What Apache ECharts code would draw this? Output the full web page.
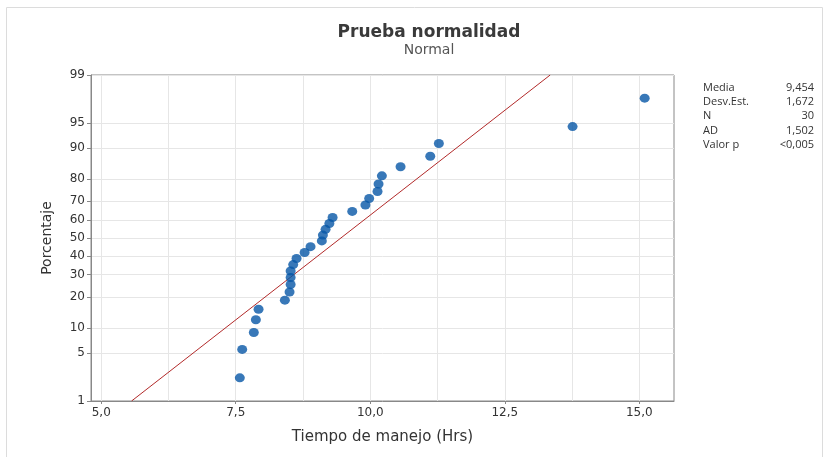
<!DOCTYPE html>
<html><head><meta charset="utf-8">
<script src="https://cdn.jsdelivr.net/npm/echarts@6/dist/echarts.min.js"></script>
<style>html,body{margin:0;padding:0;background:#fff}#c{width:829px;height:457px}</style>
</head><body><div id="c"></div>
<script>
// ---- data ----
const hours = [7.576,7.62,7.836,7.874,7.924,8.413,8.50,8.52,8.52,8.52,8.568,8.63,8.78,8.89,9.10,9.12,9.17,9.24,9.30,9.665,9.91,9.98,10.135,10.154,10.216,10.563,11.115,11.275,13.76,15.10];
const percents = [2.30,5.59,8.88,12.17,15.46,18.75,22.04,25.33,28.62,31.91,35.20,38.49,41.78,45.07,48.36,51.64,54.93,58.22,61.51,64.80,68.09,71.38,74.67,77.96,81.25,84.54,87.83,91.12,94.41,97.70];
const yTickLabels = [1,5,10,20,30,40,50,60,70,80,90,95,99];
const xTickLabels = [5,7.5,10,12.5,15];
const xGridValues = [5,6.25,7.5,8.75,10,11.25,12.5,13.75,15];
const statNames = ['Media','Desv.Est.','N','AD','Valor p'];
const statValues = ['9,454','1,672','30','1,502','<0,005'];
const fitMean = 9.454, fitSd = 1.672;

// inverse normal CDF (probability scale)
function probit(p){
  const a=[-3.969683028665376e+01,2.209460984245205e+02,-2.759285104469687e+02,1.383577518672690e+02,-3.066479806614716e+01,2.506628277459239e+00];
  const b=[-5.447609879822406e+01,1.615858368580409e+02,-1.556989798598866e+02,6.680131188771972e+01,-1.328068155288572e+01];
  const c=[-7.784894002430293e-03,-3.223964580411365e-01,-2.400758277161838e+00,-2.549732539343734e+00,4.374664141464968e+00,2.938163982698783e+00];
  const d=[7.784695709041462e-03,3.224671290700398e-01,2.445134137142996e+00,3.754408661907416e+00];
  const pl=0.02425, ph=1-pl; let q,r;
  if(p<pl){q=Math.sqrt(-2*Math.log(p));return (((((c[0]*q+c[1])*q+c[2])*q+c[3])*q+c[4])*q+c[5])/((((d[0]*q+d[1])*q+d[2])*q+d[3])*q+1);}
  if(p<=ph){q=p-0.5;r=q*q;return (((((a[0]*r+a[1])*r+a[2])*r+a[3])*r+a[4])*r+a[5])*q/(((((b[0]*r+b[1])*r+b[2])*r+b[3])*r+b[4])*r+1);}
  q=Math.sqrt(-2*Math.log(1-p));return -(((((c[0]*q+c[1])*q+c[2])*q+c[3])*q+c[4])*q+c[5])/((((d[0]*q+d[1])*q+d[2])*q+d[3])*q+1);
}
const z = p => probit(p/100);
const yTickZ = yTickLabels.map(z);
const zMin = z(1), zMax = z(99);
const pts = hours.map((h,i)=>[h, z(percents[i])]);
const fitLine = [[fitMean + fitSd*zMin, zMin],[fitMean + fitSd*zMax, zMax]];

const chart = echarts.init(document.getElementById('c'));
const font = '"DejaVu Sans",sans-serif';
const font2 = '"Open Sans","Noto Sans",sans-serif';
const graphics = [
  {type:'rect', shape:{x:6.5,y:7.5,width:816,height:460}, style:{fill:'none',stroke:'#dcdcdc',lineWidth:1}, silent:true}
];
statNames.forEach((n,i)=>{
  graphics.push({type:'text', left:703, top:82+i*14.3, style:{text:n, font:'11px '+font2, fill:'#333'}});
  graphics.push({type:'text', right:15, top:82+i*14.3, style:{text:statValues[i], font:'11px '+font2, fill:'#333', align:'right'}});
});
chart.setOption({
  animation:false,
  title:{text:'Prueba normalidad', subtext:'Normal', left:424, top:19, textAlign:'center', itemGap:2,
    textStyle:{fontFamily:font, fontSize:17, fontWeight:'bold', color:'#3a3a3a'},
    subtextStyle:{fontFamily:font, fontSize:14, color:'#555'}},
  grid:{left:91, top:75, right:155, bottom:56, show:true, borderColor:'#888', borderWidth:1, backgroundColor:'transparent'},
  xAxis:[{
    type:'value', min:4.81, max:15.645,
    name:'Tiempo de manejo (Hrs)', nameLocation:'middle', nameGap:29,
    nameTextStyle:{fontFamily:font, fontSize:15, color:'#333'},
    axisLine:{show:true, onZero:false, lineStyle:{color:'#888'}},
    axisTick:{show:true, length:3, customValues:xTickLabels, lineStyle:{color:'#888'}},
    axisLabel:{customValues:xTickLabels, fontFamily:font, fontSize:12, color:'#333', margin:6,
      formatter:v=>v.toFixed(1).replace('.',',')},
    splitLine:{show:false}
  },{
    type:'value', min:4.81, max:15.645, position:'bottom',
    axisLine:{show:false, onZero:false}, axisLabel:{show:false},
    axisTick:{show:false, customValues:xGridValues},
    splitLine:{show:true, lineStyle:{color:'#e6e6e6', width:1}}
  }],
  yAxis:{
    type:'value', min:zMin, max:zMax,
    name:'Porcentaje', nameLocation:'middle', nameGap:37, nameRotate:90,
    nameTextStyle:{fontFamily:font, fontSize:14, color:'#333'},
    axisLine:{show:true, onZero:false, lineStyle:{color:'#888'}},
    axisTick:{show:true, length:4, customValues:yTickZ, lineStyle:{color:'#888'}},
    axisLabel:{customValues:yTickZ, fontFamily:font, fontSize:12, color:'#333', margin:6,
      formatter:v=>{let best=0;yTickZ.forEach((t,i)=>{if(Math.abs(t-v)<Math.abs(yTickZ[best]-v))best=i;});return String(yTickLabels[best]);}},
    splitLine:{show:true, lineStyle:{color:'#e6e6e6', width:1}}
  },
  series:[
    {type:'line', data:fitLine, symbol:'none', lineStyle:{color:'#b22a2a', width:1}, z:2},
    {type:'scatter', data:pts, symbol:'circle', symbolSize:[10,9], itemStyle:{color:'#0656a6'}, z:3}
  ],
  graphic:graphics
});
</script></body></html>
